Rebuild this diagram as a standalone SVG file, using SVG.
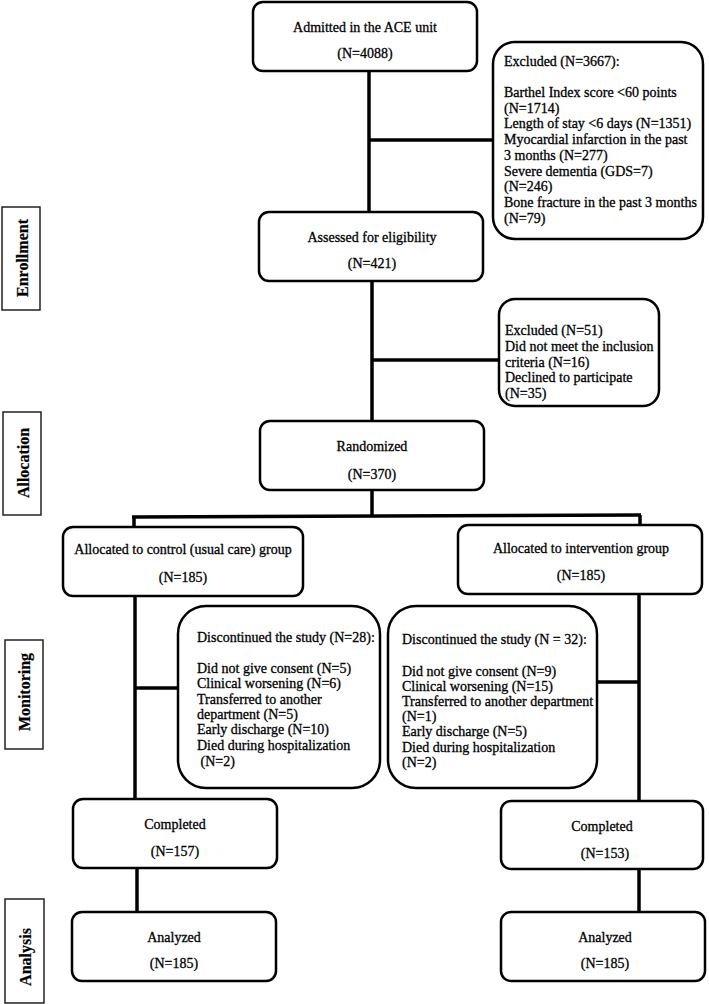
<svg xmlns="http://www.w3.org/2000/svg" width="709" height="1004" viewBox="0 0 709 1004">
<style>
.box{fill:#fff;stroke:#000;stroke-width:2.5}
.lblbox{fill:#fff;stroke:#222;stroke-width:1.5}
.con{stroke:#000;stroke-width:3.5;fill:none}
text{font-family:"Liberation Serif","Times New Roman",serif;font-size:14px;fill:#000;stroke:#000;stroke-width:0.3}
.c{text-anchor:middle}
.lbl{font-size:16px;font-weight:bold;text-anchor:middle;stroke-width:0.2}
</style>
<rect width="709" height="1004" fill="#fff"/>
<g id="connectors">
<line class="con" x1="369" y1="71" x2="369" y2="212"/>
<line class="con" x1="369" y1="140" x2="493" y2="140"/>
<line class="con" x1="372" y1="281" x2="372" y2="421"/>
<line class="con" x1="372" y1="360" x2="499" y2="360"/>
<line class="con" x1="372" y1="490" x2="372" y2="516"/>
<line class="con" x1="132" y1="517" x2="641" y2="515"/>
<line class="con" x1="134" y1="516" x2="134" y2="527"/>
<line class="con" x1="640" y1="515" x2="640" y2="525"/>
<line class="con" x1="135" y1="596" x2="135" y2="799"/>
<line class="con" x1="135" y1="688" x2="178" y2="688"/>
<line class="con" x1="639" y1="594" x2="639" y2="801"/>
<line class="con" x1="597" y1="682" x2="639" y2="682"/>
<line class="con" x1="137" y1="868" x2="137" y2="912"/>
<line class="con" x1="639" y1="869" x2="639" y2="912"/>
</g>
<g id="label-enrollment">
<rect class="lblbox" x="2" y="207" width="38" height="103"/>
<text class="lbl" transform="translate(27.5,258) rotate(-90)">Enrollment</text>
</g>
<g id="label-allocation">
<rect class="lblbox" x="3" y="412" width="38" height="103"/>
<text class="lbl" transform="translate(28.5,463) rotate(-90)">Allocation</text>
</g>
<g id="label-monitoring">
<rect class="lblbox" x="5" y="640" width="38" height="109"/>
<text class="lbl" transform="translate(30,692) rotate(-90)">Monitoring</text>
</g>
<g id="label-analysis">
<rect class="lblbox" x="5" y="899" width="39" height="104"/>
<text class="lbl" transform="translate(30.5,957) rotate(-90)">Analysis</text>
</g>
<g id="admitted">
<rect class="box" x="253" y="2" width="224" height="69" rx="10"/>
<text class="c" x="365" y="32">Admitted in the ACE unit</text>
<text class="c" x="365" y="58">(N=4088)</text>
</g>
<g id="excluded1">
<rect class="box" x="493" y="42" width="210" height="197" rx="22"/>
<text x="504" y="66">Excluded (N=3667):</text>
<text x="504" y="97">Barthel Index score &lt;60 points</text>
<text x="504" y="112.7">(N=1714)</text>
<text x="504" y="128.4">Length of stay &lt;6 days (N=1351)</text>
<text x="504" y="144.1">Myocardial infarction in the past</text>
<text x="504" y="159.8">3 months (N=277)</text>
<text x="504" y="175.5">Severe dementia (GDS=7)</text>
<text x="504" y="191.2">(N=246)</text>
<text x="504" y="206.9">Bone fracture in the past 3 months</text>
<text x="504" y="222.6">(N=79)</text>
</g>
<g id="assessed">
<rect class="box" x="259" y="212" width="224" height="69" rx="10"/>
<text class="c" x="372" y="242">Assessed for eligibility</text>
<text class="c" x="372" y="268">(N=421)</text>
</g>
<g id="excluded2">
<rect class="box" x="499" y="299" width="160" height="107" rx="16"/>
<text x="505" y="335">Excluded (N=51)</text>
<text x="505" y="351">Did not meet the inclusion</text>
<text x="505" y="367">criteria (N=16)</text>
<text x="505" y="382">Declined to participate</text>
<text x="505" y="398">(N=35)</text>
</g>
<g id="randomized">
<rect class="box" x="260" y="421" width="224" height="69" rx="10"/>
<text class="c" x="372" y="451">Randomized</text>
<text class="c" x="372" y="479">(N=370)</text>
</g>
<g id="alloc-control">
<rect class="box" x="63" y="527" width="240" height="69" rx="10"/>
<text class="c" x="183" y="554">Allocated to control (usual care) group</text>
<text class="c" x="183" y="582">(N=185)</text>
</g>
<g id="alloc-intervention">
<rect class="box" x="458" y="525" width="244" height="69" rx="10"/>
<text class="c" x="581" y="553">Allocated to intervention group</text>
<text class="c" x="581" y="580">(N=185)</text>
</g>
<g id="disc-control">
<rect class="box" x="178" y="606" width="202" height="182" rx="28"/>
<text x="197" y="642">Discontinued the study (N=28):</text>
<text x="197" y="673">Did not give consent (N=5)</text>
<text x="197" y="688">Clinical worsening (N=6)</text>
<text x="197" y="704">Transferred to another</text>
<text x="197" y="719">department (N=5)</text>
<text x="197" y="734">Early discharge (N=10)</text>
<text x="197" y="750">Died during hospitalization</text>
<text x="200.5" y="766">(N=2)</text>
</g>
<g id="disc-intervention">
<rect class="box" x="388" y="606" width="209" height="182" rx="28"/>
<text x="402" y="644">Discontinued the study (N = 32):</text>
<text x="402" y="676">Did not give consent (N=9)</text>
<text x="402" y="691">Clinical worsening (N=15)</text>
<text x="402" y="706">Transferred to another department</text>
<text x="402" y="721">(N=1)</text>
<text x="402" y="736">Early discharge (N=5)</text>
<text x="402" y="752">Died during hospitalization</text>
<text x="402" y="767">(N=2)</text>
</g>
<g id="completed-control">
<rect class="box" x="73" y="799" width="204" height="69" rx="10"/>
<text class="c" x="175" y="829">Completed</text>
<text class="c" x="175" y="856">(N=157)</text>
</g>
<g id="completed-intervention">
<rect class="box" x="501" y="801" width="202" height="68" rx="10"/>
<text class="c" x="602" y="831">Completed</text>
<text class="c" x="605" y="858">(N=153)</text>
</g>
<g id="analyzed-control">
<rect class="box" x="72" y="912" width="204" height="69" rx="10"/>
<text class="c" x="174" y="942">Analyzed</text>
<text class="c" x="174" y="968">(N=185)</text>
</g>
<g id="analyzed-intervention">
<rect class="box" x="501" y="912" width="204" height="69" rx="10"/>
<text class="c" x="605" y="942">Analyzed</text>
<text class="c" x="605" y="968">(N=185)</text>
</g>
</svg>
